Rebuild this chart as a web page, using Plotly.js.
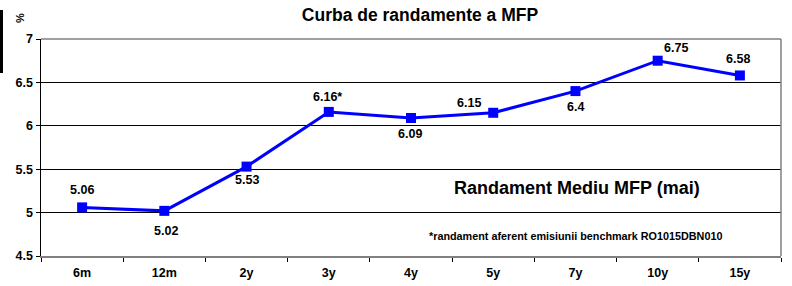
<!DOCTYPE html>
<html>
<head>
<meta charset="utf-8">
<script src="https://cdn.plot.ly/plotly-3.0.1.min.js"></script>
<style>html,body{margin:0;padding:0;background:#fff;}#chart{width:792px;height:286px;}</style>
</head>
<body>
<div id="chart"></div>
<script>
const categories = ["6m", "12m", "2y", "3y", "4y", "5y", "7y", "10y", "15y"];
const yields = [5.06, 5.02, 5.53, 6.16, 6.09, 6.15, 6.4, 6.75, 6.58];
const pointLabels = ["5.06", "5.02", "5.53", "6.16*", "6.09", "6.15", "6.4", "6.75", "6.58"];
const yTicks = [4.5, 5, 5.5, 6, 6.5, 7];
const yTickLabels = ["4.5", "5", "5.5", "6", "6.5", "7"];

// label placement (pixel offsets from each marker) — layout only
const labelDX = [0, 2, 0, -1, -1, -24, 0, 18, -2];
const labelDY = [17, -20, -13, 15, -16, 10, -16, 13, 16];

const FONT = "Liberation Sans, Arial, sans-serif";

const trace = {
  x: categories,
  y: yields,
  type: "scatter",
  mode: "lines+markers",
  line: {color: "#0000FF", width: 3},
  marker: {symbol: "square", size: 10, color: "#0000FF"},
  cliponaxis: false,
  hoverinfo: "none"
};

const pointAnnotations = categories.map((c, i) => ({
  x: c, y: yields[i], xref: "x", yref: "y",
  text: "<b>" + pointLabels[i] + "</b>",
  showarrow: false,
  xanchor: "center", yanchor: "middle",
  xshift: labelDX[i], yshift: labelDY[i],
  font: {family: FONT, size: 12.5, color: "#000"}
}));

const layout = {
  width: 792, height: 286,
  margin: {l: 41, r: 11, t: 39, b: 30},
  paper_bgcolor: "#fff", plot_bgcolor: "#fff",
  showlegend: false,
  font: {family: FONT, size: 12, color: "#000"},
  title: {
    text: "<b>Curba de randamente a MFP</b>",
    font: {family: FONT, size: 17.5, color: "#000"},
    x: (420 - 41) / 740, xanchor: "center", xref: "paper",
    y: 1 - 15 / 286, yanchor: "middle", yref: "container"
  },
  xaxis: {
    type: "category",
    tickson: "boundaries",
    ticks: "outside", ticklen: 4, tickcolor: "#000",
    showgrid: false,
    showline: true, linecolor: "#808080", linewidth: 1.5,
    tickfont: {family: FONT, size: 12.5, color: "#000", weight: "bold"},
    ticklabelstandoff: 4,
    range: [-0.5, 8.5],
    fixedrange: true
  },
  yaxis: {
    range: [4.5, 7],
    tickvals: yTicks, ticktext: yTickLabels,
    ticks: "outside", ticklen: 4, tickcolor: "#000",
    showgrid: true, gridcolor: "#000", gridwidth: 1,
    showline: true, linecolor: "#000", linewidth: 1.5,
    zeroline: false,
    tickfont: {family: FONT, size: 12.5, color: "#000", weight: "bold"},
    fixedrange: true
  },
  shapes: [
    {type: "line", xref: "paper", yref: "paper", x0: 0, x1: 1, y0: 1, y1: 1, line: {color: "#808080", width: 1.5}},
    {type: "line", xref: "paper", yref: "paper", x0: 1, x1: 1, y0: 0, y1: 1, line: {color: "#808080", width: 1.5}},
    {type: "rect", xref: "paper", yref: "paper", x0: -41 / 740, x1: -38 / 740, y0: 1 + (39 - 73) / 217, y1: 1 + (39 - 10) / 217, fillcolor: "#000", line: {width: 0}}
  ],
  annotations: pointAnnotations.concat([
    {text: "<b>%</b>", xref: "paper", yref: "paper", x: -21 / 740, y: 1 + (39 - 18) / 217, textangle: -90, showarrow: false, font: {family: FONT, size: 11, color: "#000"}, xanchor: "center", yanchor: "middle"},
    {text: "<b>Randament Mediu MFP (mai)</b>", xref: "paper", yref: "paper", x: (577 - 41) / 740, y: (256 - 188) / 217, showarrow: false, font: {family: FONT, size: 18, color: "#000"}, xanchor: "center", yanchor: "middle"},
    {text: "<b>*randament aferent emisiunii benchmark RO1015DBN010</b>", xref: "paper", yref: "paper", x: (575 - 41) / 740, y: (256 - 236) / 217, showarrow: false, font: {family: FONT, size: 10.8, color: "#000"}, xanchor: "center", yanchor: "middle"}
  ])
};

Plotly.newPlot("chart", [trace], layout, {staticPlot: true, displayModeBar: false});
</script>
</body>
</html>
